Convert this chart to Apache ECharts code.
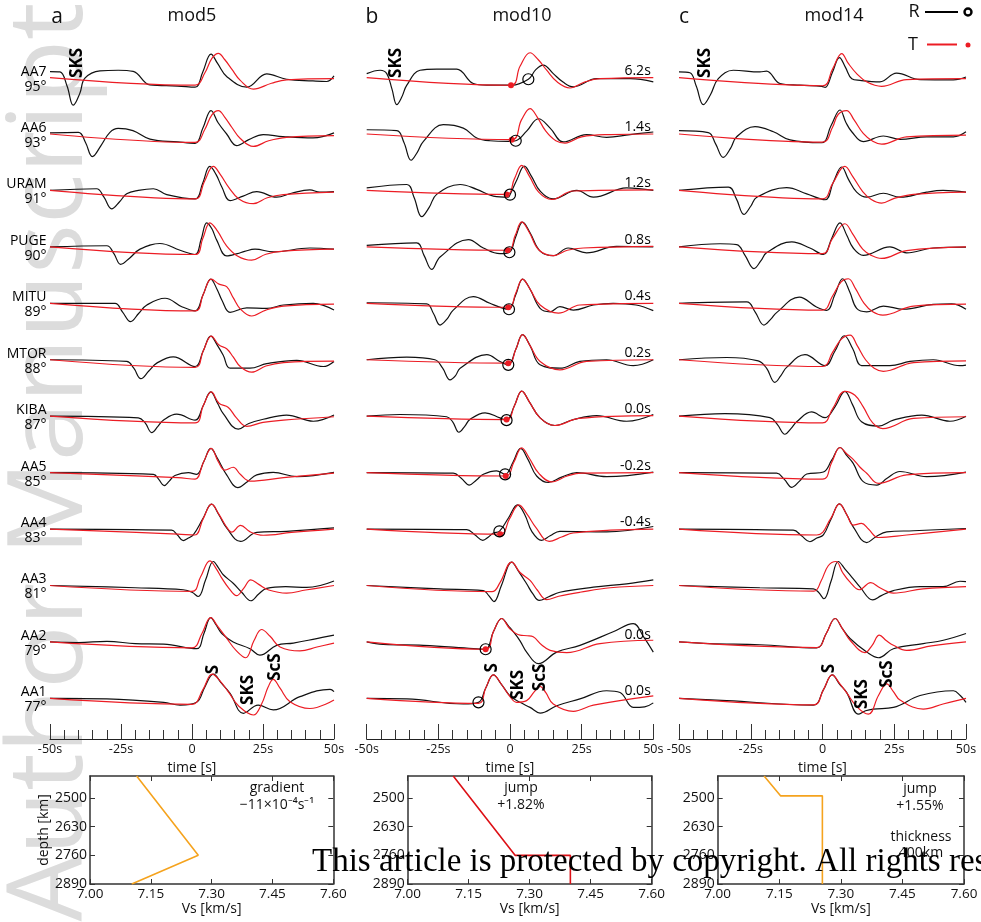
<!DOCTYPE html>
<html><head><meta charset="utf-8">
<script src="https://cdn.jsdelivr.net/npm/echarts@6/dist/echarts.min.js"></script>
<style>html,body{margin:0;padding:0;background:#fff}#c{width:981px;height:922px}</style>
</head><body><div id="c"></div>
<script>
// ---------------- data ----------------
const stations = ['AA7','AA6','URAM','PUGE','MITU','MTOR','KIBA','AA5','AA4','AA3','AA2','AA1'];
const distances = [95,93,91,90,89,88,87,85,83,81,79,77];
const timeTicks = [-50,-25,0,25,50];
const panelTitles = ['mod5','mod10','mod14'];
const panelLetters = ['a','b','c'];

// amplitudes: [time s, amplitude] (1 unit = 1/10 trace spacing)
const mod5_R = [
 [[-50,1.06],[-46.5,1.0],[-44,-1.5],[-41.8,-4.9],[-39.5,-2.8],[-37.7,-0.1],[-32.4,1.2],[-26,1.3],[-20.7,1.1],[-14.8,-1.3],[-5,-1.5],[1.1,-1.7],[3.8,1.0],[6.7,4.15],[9,2.5],[12.2,0.2],[19.3,-1.7],[26.3,0.65],[33.3,-0.3],[42.6,-0.6],[47.4,-0.7],[50,0.3]],
 [[-50,0.2],[-40,0.3],[-37.5,-1.5],[-35.1,-4.0],[-32,-2.0],[-28.9,0.3],[-26,1.0],[-20.8,0.6],[-14.8,-0.9],[-5,-1.4],[1.1,-1.65],[3.8,1.0],[6.7,4.15],[9.2,2.0],[12.2,0],[15.7,-2.05],[20,-1.0],[25.1,-0.1],[32,-0.45],[42.6,-0.7],[50,0.2]],
 [[-50,0],[-33.6,0.3],[-31,-1.2],[-28.3,-3.25],[-25.5,-2.0],[-23,-0.6],[-18.9,0],[-13.6,0.3],[-8.9,-0.75],[1.1,-1.5],[3.7,1.2],[6.3,4.25],[8.5,2.8],[10.5,0.6],[13.4,-1.8],[18,-1.0],[22.8,-0.2],[29.8,-1.2],[35,-0.5],[41.5,0.1],[45,-0.3],[50,-0.2]],
 [[-50,0],[-30,0.2],[-27.5,-1.2],[-25.1,-3.1],[-22,-2.0],[-18.3,-0.4],[-11.3,0.6],[-4.2,-0.6],[1.1,-1.35],[3.2,1.3],[5.2,4.25],[7,3.2],[8.7,1.2],[12.2,-1.6],[16,-1.2],[18.5,-0.8],[22.2,-0.4],[28.6,-0.9],[41.5,-0.2],[50,-0.4]],
 [[-50,0],[-27.1,0],[-24.5,-1.5],[-21.6,-3.25],[-18.8,-1.8],[-15.9,-0.3],[-9.5,0.9],[-3.6,-0.6],[1.1,-1.35],[3.9,1.5],[6.6,4.3],[8.8,2.5],[10.5,0.6],[13.4,-1.6],[19.3,-0.8],[26.3,-0.9],[32.2,-0.3],[42.7,0],[50,-1.2]],
 [[-50,0],[-23,-0.3],[-20.5,-1.5],[-18,-3.35],[-15.2,-2.0],[-12.4,-0.6],[-6.6,0.5],[1.1,-1.2],[3.9,1.5],[6.6,4.2],[9,2.5],[11,0.8],[13.4,-1.5],[20.4,-1.5],[26.3,-0.7],[36.9,-0.1],[46.2,-1.2],[50,-0.3]],
 [[-50,0],[-18.9,-0.3],[-16.5,-1.2],[-14.2,-2.9],[-12,-1.8],[-10.1,-0.7],[-5.4,0.35],[1.1,-0.7],[3.9,1.8],[6.6,4.3],[9,2.3],[11,0.45],[16.3,-2.3],[20,-1.3],[25.1,-0.55],[33.3,0.2],[42.7,-0.9],[50,0.2]],
 [[-50,0],[-13.6,-0.3],[-11.7,-1.2],[-9.8,-2.3],[-8,-1.5],[-6,-0.5],[-1.3,0],[1.6,-0.3],[4.2,2.0],[6.6,4.3],[9,2.5],[12.2,-0.4],[16.1,-2.65],[19.5,-1.6],[22.8,-0.4],[28.6,0.05],[36.9,-0.7],[50,0.05]],
 [[-50,0],[-7.2,-0.2],[-5.2,-1.0],[-3.1,-2.05],[-1.3,-1.6],[0.5,-1.0],[3.8,1.8],[6.9,4.4],[9.5,2.5],[12.2,0.2],[17.1,-2.2],[22.8,-0.6],[33.3,-0.4],[50,0.2]],
 [[-50,0],[-20,-0.4],[-3.1,-0.75],[0,-1.2],[2.2,-1.95],[4.8,1.0],[7.5,4.25],[9.5,3.0],[11,1.9],[14.5,0.4],[17.5,-1.2],[20.7,-2.7],[23.5,-1.5],[26.3,-0.5],[33,-0.2],[40.4,-0.35],[50,0.8]],
 [[-50,0],[-40,-0.1],[-30,0.1],[-20,-0.3],[-10,-0.4],[1.6,-1.2],[4.2,1.5],[6.6,4.3],[8.5,3.0],[10.5,1.5],[14.5,0],[20.4,-1.2],[23.9,-2.35],[29.8,-0.6],[35.7,-0.2],[43.9,0.6],[50,1.2]],
 [[-50,0],[-30,-0.1],[-10,-0.7],[-4.2,-1.2],[1.6,-0.7],[4.5,2.0],[7.5,4.3],[10.5,2.6],[13.4,0.9],[18.1,-2.65],[23.3,-1.2],[28.6,-2.05],[38,0.3],[48.6,1.6],[50,1.2]]
];
const mod5_T = [
 [[-50,0],[1.1,-1.35],[4.5,0.8],[7,3.4],[9.3,4.3],[11.5,3.2],[14,1.5],[17,-0.5],[21.6,-2.05],[28,-1.0],[33.3,-0.4],[50,-0.2]],
 [[-50,0],[1.1,-1.5],[4.5,0.8],[7,3.4],[9.3,4.15],[11.5,3.0],[14,1.2],[17,-0.8],[21.6,-2.2],[27,-1.2],[33.3,-0.6],[50,-0.3]],
 [[-50,0],[1.1,-1.5],[4.3,1.5],[7.5,4.25],[10,2.8],[13,0.5],[16.5,-1.5],[21.6,-2.35],[26.5,-1.3],[32.2,-0.75],[50,-0.3]],
 [[-50,0],[1.1,-1.35],[3.8,1.5],[6.3,4.25],[9,2.8],[12,0.3],[16,-1.6],[21,-2.35],[26,-1.3],[32.2,-0.75],[50,-0.4]],
 [[-50,0],[1.1,-1.35],[3.9,1.5],[6.8,4.3],[9.5,3.4],[12.2,2.95],[14.5,1.0],[17,-1.0],[21,-2.25],[26,-1.2],[32.2,-0.5],[50,-0.15]],
 [[-50,0],[1.1,-1.35],[3.9,1.5],[6.8,4.2],[9.5,2.6],[12.2,1.95],[14.5,0.5],[17,-1.2],[21,-2.2],[26,-1.1],[32.2,-0.5],[50,-0.25]],
 [[-50,0],[1.1,-1.2],[3.9,1.8],[6.8,4.3],[9.5,2.3],[12.8,1.55],[15.5,-0.2],[19.3,-1.8],[25,-1.1],[32.2,-0.7],[50,-0.1]],
 [[-50,0],[-5,-0.9],[1.1,-1.15],[4,1.8],[6.8,4.3],[9.2,2.0],[11.6,0.45],[14.5,0.95],[17,-0.3],[20.4,-1.5],[32.2,-0.9],[50,-0.1]],
 [[-50,0],[-5,-0.9],[1,-1.05],[3.9,1.8],[6.9,4.4],[9.5,2.6],[12,0.5],[14,-0.55],[17.1,0.65],[20.5,-0.5],[25.1,-1.1],[35,-0.6],[50,0]],
 [[-50,0],[0,-1.05],[3,1.5],[6.3,4.35],[8.5,3.0],[10.5,1.3],[13,-0.5],[15.7,-1.8],[18.2,-0.5],[20.7,1.0],[23.5,0.2],[27,-0.8],[33.3,-1.35],[40,-0.8],[50,0]],
 [[-50,0],[0,-1.05],[3.5,1.5],[6.6,4.3],[9,2.8],[12,0.8],[15.5,-1.5],[18.9,-2.8],[21.8,0.2],[24.5,2.2],[27.5,1.0],[31,-0.9],[38,-1.6],[44,-0.9],[50,-0.2]],
 [[-50,0],[0,-1.05],[3.8,1.5],[7.1,4.3],[10,3.0],[13,1.0],[16.5,-1.4],[21.6,-2.95],[24.5,-1.0],[26.8,2.0],[28.6,3.35],[31,1.8],[34.5,-0.6],[41.5,-1.8],[50,-0.3]]
];
const mod10_R = [
 [[-50,0.7],[-45.3,1.3],[-43,0.7],[-41.2,-2.0],[-39.5,-4.8],[-37.8,-3.5],[-36,-1.35],[-31.4,1.3],[-25.6,1.5],[-18.6,1.5],[-12.8,-1.05],[-8.1,-1.35],[0.6,-1.35],[6.4,-0.3],[9,1.4],[11.6,2.2],[15.1,0.7],[18.5,-0.8],[22.1,-1.65],[30.2,-0.2],[36,-0.2],[42,-0.2],[50,-0.75]],
 [[-50,0.75],[-39.5,0.6],[-37,-1.5],[-34.5,-4.65],[-32.3,-3.2],[-30.2,-1.3],[-23.3,1.65],[-16.3,1.05],[-11.6,-0.7],[-7,-1.2],[-0.6,-1.3],[2,-1.2],[5.8,0.5],[9.9,2.7],[14,1.05],[18.6,-1.4],[26.7,-0.1],[33.7,-0.6],[41.9,-0.1],[50,0.35]],
 [[-50,0.45],[-36,1.05],[-33.5,-1.2],[-30.8,-4.65],[-28.2,-3.0],[-25.6,-0.7],[-17.4,1.05],[-11.6,0.2],[-5.8,-1.0],[-0.6,-1.2],[0,-0.75],[2.5,2.0],[5,4.3],[7.5,2.5],[10.5,-0.1],[15.1,-1.5],[23.3,0],[29.1,-1.2],[40.7,0.45],[50,0]],
 [[-50,0.25],[-32.6,0.7],[-30,-1.5],[-27.3,-4.0],[-24.4,-1.8],[-14.5,1.3],[-9.3,-0.2],[-3.5,-1.2],[-0.2,-0.95],[2,1.8],[4.4,4.4],[7,2.5],[10.5,-0.75],[15.1,-1.55],[20.3,-0.2],[26.7,-1.05],[37.2,0.1],[50,0]],
 [[-50,0.1],[-29.1,-0.1],[-26.7,-1.8],[-24.4,-3.85],[-22,-2.8],[-19.8,-1.2],[-12.8,1.2],[-7,0],[-2.3,-0.9],[-0.35,-1.05],[2,1.5],[4.4,4.3],[7,2.5],[10.5,-0.9],[14,-1.5],[17.4,-0.6],[22.1,-1.2],[29.1,-0.3],[36,0],[44,-0.3],[50,-1.3]],
 [[-50,0],[-36,0.45],[-26.2,0],[-23.5,-1.5],[-20.9,-3.55],[-19,-2.8],[-17.4,-1.5],[-8.1,0.9],[-3.5,-0.3],[-0.6,-0.9],[2,1.8],[4.4,4.45],[7,2.5],[10.5,-0.9],[17.4,-1.5],[24.4,-0.3],[33.7,0],[43,-1.05],[50,0]],
 [[-50,0],[-38.4,0.3],[-22.1,-0.1],[-20,-1.0],[-17.8,-2.85],[-15.8,-1.8],[-14,-0.6],[-8.7,0.6],[-3.5,-0.3],[-1.2,-0.7],[1.5,1.8],[4.1,4.45],[6.8,2.5],[10.5,-0.3],[15.7,-1.65],[22.1,-0.6],[30.2,0.1],[40.7,-0.9],[50,0.3]],
 [[-50,0],[-19.8,-0.1],[-17,-1.0],[-14.2,-2.2],[-11.7,-1.3],[-9.3,-0.3],[-4.7,0.3],[-1.7,-0.3],[1,1.8],[3.7,4.3],[6.3,2.3],[9.3,-0.6],[13.4,-1.75],[18,-0.8],[23.3,0],[33.7,-0.7],[50,0.1]],
 [[-50,0],[-15.1,-0.1],[-12.3,-1.0],[-9.5,-2.0],[-7.5,-1.4],[-5.8,-0.7],[-3.7,-0.4],[-0.5,2.0],[2.6,4.3],[5.2,2.5],[7.6,-0.4],[11,-2.0],[14,-1.2],[17.4,-0.4],[33.7,-0.5],[50,0.45]],
 [[-50,0],[-24.4,-0.6],[-9.3,-0.9],[-7.4,-1.8],[-5.6,-2.85],[-3,0.0],[0.6,4.15],[3,2.5],[5.8,0.3],[8,-1.5],[10.2,-2.65],[13.5,-2.0],[17.4,-1.2],[29.1,-0.3],[40.7,0.3],[50,1.0]],
 [[-50,0],[-44.2,-0.45],[-30.2,-0.6],[-12.8,-1.2],[-8.5,-1.3],[-5.8,1.8],[-2.9,4.15],[-0.5,2.8],[1.2,1.8],[3.5,0.2],[5.8,-1.8],[9.9,-3.85],[16.3,-1.8],[24.4,-0.6],[36,1.8],[43,3.25],[46.5,1.0],[50,-1.8]],
 [[-50,0],[-36,-0.1],[-16.3,-1.0],[-11,-0.7],[-8.5,1.8],[-5.8,4.15],[-3,2.5],[0,0.45],[3.5,-0.7],[7,-1.6],[10.5,-2.6],[16.3,-1.3],[24.4,-0.1],[33.7,1.35],[38.4,1.05],[43,-1.6],[47,-1.5],[50,-0.8]]
];
const mod10_T = [
 [[-50,0],[0.35,-1.36],[3.5,2.0],[7,4.4],[9.8,3.2],[12.8,1.3],[16.5,-0.8],[20.9,-1.85],[26,-0.8],[31.4,-0.2],[50,0]],
 [[-50,0],[0.6,-1.0],[4,2.5],[7,4.5],[9.5,3.0],[12.5,0.5],[16,-1.2],[19.2,-1.6],[25,-0.5],[35,-0.1],[50,0]],
 [[-50,0],[-1.2,-0.7],[1.5,2.0],[4.1,4.45],[6.8,2.5],[10,-0.3],[14.5,-1.6],[22,-0.1],[50,0.1]],
 [[-50,0],[-0.8,-0.6],[1.8,2.0],[4.1,4.43],[6.8,2.5],[10,-0.5],[15.1,-1.55],[20,-0.6],[25.6,-0.2],[50,0.1]],
 [[-50,0],[-0.6,-0.7],[2,1.8],[4.4,4.3],[7,2.5],[10.5,-0.3],[16.9,-1.75],[24.4,-0.3],[50,0]],
 [[-50,0],[-0.6,-0.6],[2,1.8],[4.4,4.45],[7,2.5],[10.5,-0.3],[17.4,-1.8],[26.7,-0.3],[50,0]],
 [[-50,0],[-1.2,-0.6],[1.5,1.8],[4.1,4.45],[6.8,2.5],[10.5,-0.3],[15.7,-1.65],[24,-0.4],[50,0.1]],
 [[-50,0],[-1.5,-0.6],[1.3,1.8],[4.1,4.4],[6.8,2.5],[10,-0.1],[14.5,-1.65],[20,-0.6],[25,-0.1],[50,0]],
 [[-50,0],[-3.4,-0.9],[-0.2,1.8],[3.1,4.3],[6,2.6],[9,0.3],[13.7,-2.2],[18,-1.4],[22,-0.7],[35,-0.2],[50,0]],
 [[-50,0],[-6.3,-1.1],[-3.5,0.5],[0.6,4.15],[3.5,2.3],[7,0.9],[9.5,-0.8],[12.8,-2.5],[17,-1.9],[24.4,-1.2],[35,-0.4],[50,0]],
 [[-50,0],[-8.5,-1.3],[-5.8,1.8],[-2.9,4.15],[0,2.3],[3.5,1.2],[6,1.1],[8.1,0.9],[11,-0.5],[14,-1.5],[19.8,-1.9],[31.4,-0.3],[50,0.3]],
 [[-50,0],[-11,-0.9],[-8.5,1.8],[-5.8,4.15],[-3,2.5],[0,0.3],[2.3,-0.7],[5.8,-0.4],[8.5,1.2],[10.5,2.1],[12.5,1.0],[15.1,-1.0],[22.1,-2.3],[29.1,-1.2],[50,0.45]]
];
const mod14_R = [
 [[-50,1.0],[-46.2,0.85],[-44,-1.5],[-41.5,-4.8],[-39,-3.0],[-36.3,-0.2],[-31.1,1.3],[-21.8,1.0],[-19.5,1.15],[-14.8,-1.05],[-7.8,-1.35],[-0.3,-1.55],[0.9,-1.75],[3.5,1.0],[5.9,3.55],[8,1.8],[10.2,-0.2],[13.1,-0.5],[20,-0.75],[25.8,0.8],[34,-0.35],[45.6,-0.4],[50,0.1]],
 [[-50,0.6],[-39.8,0.25],[-37.2,-1.8],[-34.6,-4.15],[-32,-2.5],[-29.9,-0.5],[-23.5,1.3],[-17.1,0.4],[-11.3,-1.05],[-0.3,-1.55],[3,1.5],[6.1,4.25],[8.2,2.0],[10.2,0.4],[14.2,-1.35],[21.2,-0.35],[27,-0.95],[36.3,-0.5],[45.6,-0.5],[50,0.4]],
 [[-50,0],[-32.8,0.6],[-30,-1.5],[-27.4,-4.25],[-25,-2.8],[-22.9,-1.2],[-12.5,0.5],[-5.5,-0.6],[0.9,-1.65],[3.8,1.5],[6.7,4.15],[9,2.0],[11.9,-0.3],[15.4,-1.2],[21.2,-0.5],[27,-1.2],[36.3,-0.3],[42,0],[50,-0.3]],
 [[-50,0],[-35.7,0.55],[-29.9,0.4],[-27,-1.5],[-23.9,-3.85],[-21.5,-2.5],[-19.5,-1.05],[-10.7,0.9],[-4.4,-0.2],[0.3,-1.35],[3.2,1.5],[6.1,4.25],[8.5,2.0],[10.7,-0.2],[14.2,-1.5],[23.5,0],[29.3,-1.05],[38.6,-0.2],[50,-0.05]],
 [[-50,0],[-26.4,0.25],[-23.5,-1.5],[-20.4,-3.85],[-18,-2.8],[-16,-1.65],[-8.1,1.1],[-2.1,-0.65],[1.5,-1.25],[4.3,1.5],[7,4.35],[9.5,2.0],[11.9,-0.9],[15.4,-1.5],[21.2,-0.5],[28.2,-1.05],[38.6,-0.2],[45,-0.1],[50,-1.05]],
 [[-50,0],[-33.4,0.4],[-22.4,-0.2],[-19.5,-1.5],[-16.6,-4.0],[-14.5,-2.8],[-12.5,-1.35],[-6.1,0.9],[0.9,-1.05],[4.3,1.5],[7.6,4.25],[10.5,2.0],[13.6,-1.05],[17.7,-1.05],[23.5,-1.05],[30.5,-0.3],[38.6,0],[47.9,-1.05],[50,-0.95]],
 [[-50,0],[-34,0.45],[-18.3,-0.25],[-15.7,-1.5],[-13.1,-3.2],[-11,-2.2],[-9,-1.0],[-3.8,0.75],[0.9,-0.25],[4.5,1.8],[7.8,4.4],[10.5,2.0],[13.6,-1.0],[19.5,-1.75],[24.7,-0.7],[34.6,0.2],[44.4,-0.9],[50,0]],
 [[-50,0],[-16,-0.1],[-13.3,-1.2],[-10.7,-2.6],[-8,-1.5],[-5.5,-0.25],[0.3,0.1],[3.2,2.2],[6.1,4.45],[8.5,3.0],[10.7,1.65],[14.2,-1.6],[18.9,-2.2],[22.5,-1.0],[27,0.2],[36.3,-0.7],[50,0.1]],
 [[-50,0],[-10.2,-0.2],[-7.3,-1.2],[-4.4,-2.25],[-2,-1.6],[0.3,-1.05],[3,1.8],[5.9,4.45],[8.5,2.5],[10.7,0.4],[15.4,-2.4],[18.5,-1.4],[22.4,-0.5],[31.7,-0.3],[50,0.1]],
 [[-50,0],[-21.8,-0.4],[-3.2,-0.6],[-1.4,-1.2],[0.5,-2.35],[3,0.8],[5.5,4.25],[8,2.8],[10.2,1.5],[13.1,-0.3],[17.5,-2.55],[20.5,-1.8],[24.7,-0.9],[34,-0.2],[42,-0.2],[47.9,0.75],[50,0.7]],
 [[-50,0],[-39.2,-0.3],[-21.8,-0.5],[-2.1,-1.05],[1.3,1.5],[4.4,4.15],[7,2.3],[9.6,0.6],[15.4,-1.8],[19.5,-2.8],[24.7,-1.2],[35.1,-0.3],[42.1,0.3],[50,1.5]],
 [[-50,0],[-33.4,-0.4],[-3.2,-1.2],[0.3,1.5],[3.4,4.15],[6,2.5],[8.4,1.05],[12.5,-2.8],[15,-2.2],[17.7,-1.9],[24.7,-1.6],[34,0.5],[45.6,1.35],[48,0.5],[50,-0.7]]
];
const mod14_T = [
 [[-50,0],[0,-1.45],[3.5,1.5],[6.7,4.25],[9,2.5],[11.9,0.7],[15.5,-0.8],[20.6,-1.55],[29.3,-0.35],[50,-0.2]],
 [[-50,0],[0,-1.45],[3.5,1.2],[5.5,3.5],[8.4,4.15],[11,2.5],[14.2,0.1],[17.5,-1.3],[20.6,-1.8],[29.3,-0.5],[50,-0.2]],
 [[-50,0],[0,-1.5],[3.5,1.2],[7.8,4.25],[10.5,2.5],[14,-0.2],[17,-1.6],[20.6,-2.25],[25,-1.4],[31.7,-0.7],[50,-0.3]],
 [[-50,0],[0,-1.2],[3.5,1.5],[7.8,4.1],[10.5,2.3],[14,-0.4],[17,-1.5],[20.6,-2.05],[29.3,-0.65],[50,0]],
 [[-50,0],[0,-1.2],[3.5,1.3],[6.5,3.8],[9,4.35],[11.5,2.6],[14.5,0],[17.5,-1.5],[21,-2.1],[31.7,-0.5],[50,-0.15]],
 [[-50,0],[0,-1.2],[3.5,1.3],[6.5,3.6],[9.6,4.35],[12,2.6],[15,0],[18,-1.5],[21.2,-2.05],[31.7,-0.5],[50,-0.2]],
 [[-50,0],[0,-1.2],[3.5,1.3],[7.8,4.4],[11.3,3.7],[14.2,1.65],[17.5,-1.2],[21,-2.2],[31.7,-0.4],[50,-0.1]],
 [[-50,0],[0,-1.15],[3.2,1.8],[6.1,4.45],[8.5,3.3],[10.7,2.35],[13,1.0],[15.4,-0.1],[19.5,-1.9],[29.3,-0.4],[50,0]],
 [[-50,0],[-2,-1.05],[2.8,1.8],[5.9,4.45],[8.5,2.5],[10.7,0.7],[13.6,1.0],[16,0],[19.5,-1.5],[29.3,-1.05],[50,0]],
 [[-50,0],[-3,-1.0],[-0.5,0.8],[2,3.5],[4.7,4.25],[7,2.3],[9.6,0.6],[12.8,-0.75],[16.8,0.5],[20,-0.4],[24.7,-1.35],[35,-0.6],[50,-0.2]],
 [[-50,0],[-2,-1.0],[1.3,1.5],[4.4,4.15],[7,2.3],[9.6,0.3],[14.8,-1.9],[17.3,-0.6],[19.8,1.2],[22.3,0.2],[24.7,-0.6],[29.3,-1.5],[38,-0.7],[50,0]],
 [[-50,0],[-3,-1.15],[0.3,1.5],[3.4,4.15],[6,2.6],[8.4,1.0],[12,-1.5],[16,-2.8],[19.5,0.5],[22.4,2.55],[24.7,1.2],[27,-0.3],[35.1,-1.9],[42,-1.0],[50,0]]
];
// mod10 picks (R open circle, T red dot) and time shifts
const mod10_pickR = [[6.4,-0.3],[2.0,-1.2],[0,-0.75],[-0.2,-0.95],[-0.35,-1.05],[-0.6,-0.9],[-1.2,-0.7],[-1.7,-0.3],[-3.7,-0.4],null,[-8.5,-1.3],[-11,-0.7]];
const mod10_pickT = [[0.35,-1.36],[0.6,-1.0],[-1.2,-0.7],[-0.8,-0.6],[-0.6,-0.7],[-0.6,-0.6],[-1.2,-0.6],[-1.5,-0.6],[-3.4,-0.9],null,[-8.5,-1.3],null];
const mod10_shift = ['6.2s','1.4s','1.2s','0.8s','0.4s','0.2s','0.0s','-0.2s','-0.4s','','0.0s','0.0s'];
// phase annotations: [text, station index, time, amplitude]
const mod5_phases = [['SKS',0,-40.3,2.6],['S',11,7.6,5.1],['SKS',11,19.9,1.5],['ScS',11,29.2,5.55]];
const mod10_phases = [['SKS',0,-39.6,2.6],['S',11,-6.2,5.4],['SKS',11,2.9,2.4],['ScS',11,10.6,3.7]];
const mod14_phases = [['SKS',0,-40.9,2.6],['S',11,2.4,5.3],['SKS',11,13.8,0.76],['ScS',11,22.6,4.3]];

// velocity profiles
const vsTicks = [7.00,7.15,7.30,7.45,7.60];
const depthTicks = [2500,2630,2760,2890];
const profA_vs = [7.115,7.267,7.103], profA_depth = [2400,2760,2890];
const profB_vs = [7.112,7.264,7.40,7.40], profB_depth = [2400,2760,2760,2890];
const profC_vs = [7.113,7.153,7.255,7.255], profC_depth = [2400,2490,2490,2890];

// ---------------- chart ----------------
const FONT = 'Open Sans';
const BLACK = '#111', RED = '#ec1c24', ORANGE = '#f5a31e', PRED = '#dd1016';
const SP = 10;
const off = i => (stations.length - 1 - i) * SP;
const chart = echarts.init(document.getElementById('c'), null, {renderer:'canvas'});

const wavePanels = [
  {left:50, right:647, R:mod5_R, T:mod5_T, ph:mod5_phases},
  {left:366.7, right:327.7, R:mod10_R, T:mod10_T, ph:mod10_phases},
  {left:679, right:15, R:mod14_R, T:mod14_T, ph:mod14_phases}
];
const profPanels = [
  {left:90, right:647.7, vs:profA_vs, d:profA_depth, color:ORANGE, name:'depth [km]'},
  {left:407.7, right:329.3, vs:profB_vs, d:profB_depth, color:PRED, name:''},
  {left:717.7, right:17, vs:profC_vs, d:profC_depth, color:ORANGE, name:''}
];

const hidden = {color:'rgba(0,0,0,0)', opacity:1};
const grid = [], xAxis = [], yAxis = [], series = [];
wavePanels.forEach((p, pi) => {
  grid.push({left:p.left, right:p.right, top:20, bottom:183});
  xAxis.push({gridIndex:pi, type:'value', min:timeTicks[0], max:timeTicks[timeTicks.length-1], interval:25,
    axisLine:{show:true, onZero:false, lineStyle:{color:'#222', width:1}},
    axisTick:{show:true, inside:true, length:15, lineStyle:{color:'#333', width:1}},
    minorTick:{show:true, splitNumber:5, length:9, lineStyle:{color:'#333', width:1}},
    splitLine:{show:false}, minorSplitLine:{show:false},
    axisLabel:{fontFamily:FONT, fontSize:12.5, color:'#111', margin:4, formatter:v => v===0 ? '0' : v+'s'},
    name:'time [s]', nameLocation:'middle', nameGap:15, nameTextStyle:{fontFamily:FONT, fontSize:14, color:'#111'}});
  yAxis.push({gridIndex:pi, type:'value', min:-7.2, max:120.2, show:false});
  stations.forEach((s, i) => {
    series.push({type:'line', xAxisIndex:pi, yAxisIndex:pi, silent:true, showSymbol:false, smooth:0.4,
      data:p.R[i].map(([t,a]) => [t, a + off(i)]), lineStyle:{color:BLACK, width:1.2}, z:2});
  });
  stations.forEach((s, i) => {
    series.push({type:'line', xAxisIndex:pi, yAxisIndex:pi, silent:true, showSymbol:false, smooth:0.4,
      data:p.T[i].map(([t,a]) => [t, a + off(i)]), lineStyle:{color:RED, width:1.2}, z:3});
  });
  series.push({type:'scatter', xAxisIndex:pi, yAxisIndex:pi, silent:true, symbolSize:1, clip:false,
    itemStyle:hidden, z:6,
    data:p.ph.map(([txt, st, t, a]) => ({value:[t, off(st) + a], name:txt})),
    label:{show:true, position:'inside', rotate:90, formatter:q => q.data.name, opacity:1,
      fontFamily:FONT, fontWeight:'bold', fontSize:17, color:'#000'}});
});
// station labels
series.push({type:'scatter', xAxisIndex:0, yAxisIndex:0, silent:true, symbolSize:1, clip:false, z:6,
  itemStyle:hidden,
  data:stations.map((s, i) => ({value:[-50, off(i)], name:s, dist:distances[i]})),
  label:{show:true, position:'left', distance:3, offset:[0,1.5], align:'right', lineHeight:15, opacity:1,
    formatter:q => q.data.name + '\n' + q.data.dist + '°', fontFamily:FONT, fontSize:14, color:'#000'}});
// mod10 shifts
series.push({type:'scatter', xAxisIndex:1, yAxisIndex:1, silent:true, symbolSize:1, clip:false, z:6,
  itemStyle:hidden,
  data:mod10_shift.map((s, i) => ({value:[50, off(i)], name:s})).filter(d => d.name),
  label:{show:true, position:'left', distance:2, offset:[0,-7], formatter:q => q.data.name, opacity:1,
    fontFamily:FONT, fontSize:14, color:'#000'}});
// mod10 picks
series.push({type:'scatter', xAxisIndex:1, yAxisIndex:1, silent:true, symbol:'circle', symbolSize:6, z:7,
  itemStyle:{color:RED, opacity:1},
  data:mod10_pickT.map((p, i) => p ? [p[0], p[1] + off(i)] : null).filter(Boolean)});
series.push({type:'scatter', xAxisIndex:1, yAxisIndex:1, silent:true, symbol:'circle', symbolSize:11, z:8,
  itemStyle:{color:'rgba(0,0,0,0)', borderColor:'#000', borderWidth:1.2, opacity:1},
  data:mod10_pickR.map((p, i) => p ? [p[0], p[1] + off(i)] : null).filter(Boolean)});

// profile panels
const frame = {show:true, onZero:false, lineStyle:{color:'#333', width:1.5}};
profPanels.forEach((p, k) => {
  const gi = 3 + k;
  grid.push({left:p.left, right:p.right, top:776, bottom:38});
  xAxis.push({gridIndex:gi, type:'value', min:7.0, max:7.6, position:'bottom', axisLine:frame,
    axisTick:{show:true, inside:true, length:5, customValues:vsTicks, lineStyle:{color:'#333'}},
    axisLabel:{fontFamily:FONT, fontSize:13.5, color:'#111', margin:3, customValues:vsTicks, formatter:v => v.toFixed(2)},
    splitLine:{show:false}, name:'Vs [km/s]', nameLocation:'middle', nameGap:18,
    nameTextStyle:{fontFamily:FONT, fontSize:14, color:'#111'}});
  yAxis.push({gridIndex:gi, type:'value', min:2400, max:2890, inverse:true, position:'left', axisLine:frame,
    axisTick:{show:true, inside:true, length:5, customValues:depthTicks, lineStyle:{color:'#333'}},
    axisLabel:{fontFamily:FONT, fontSize:14, color:'#111', margin:3, customValues:depthTicks, formatter:v => String(v)},
    splitLine:{show:false}, name:p.name, nameLocation:'middle', nameGap:33,
    nameTextStyle:{fontFamily:FONT, fontSize:14, color:'#111'}});
});
profPanels.forEach((p, k) => {
  const gi = 3 + k;
  xAxis.push({gridIndex:gi, type:'value', min:7.0, max:7.6, position:'top', axisLine:frame,
    axisTick:{show:true, inside:true, length:5, customValues:vsTicks, lineStyle:{color:'#333'}},
    axisLabel:{show:false}, splitLine:{show:false}});
  yAxis.push({gridIndex:gi, type:'value', min:2400, max:2890, inverse:true, position:'right', axisLine:frame,
    axisTick:{show:true, inside:true, length:5, customValues:depthTicks, lineStyle:{color:'#333'}},
    axisLabel:{show:false}, splitLine:{show:false}});
  series.push({type:'line', xAxisIndex:3 + k, yAxisIndex:3 + k, silent:true, showSymbol:false,
    data:p.vs.map((v, j) => [v, p.d[j]]), lineStyle:{color:p.color, width:1.6}, z:3});
});

const T = (x, y, text, size) => ({type:'text', x, y, z:50,
  style:{text, fontFamily:FONT, fontSize:size, fill:'#111', textAlign:'center', textVerticalAlign:'middle'}});
const graphic = [
  {type:'text', x:52, y:462, rotation:Math.PI/2, z:0,
    style:{text:'Author Manuscript', fontFamily:FONT, fontSize:105, fill:'#dcdcdc', textAlign:'center', textVerticalAlign:'middle'}},
  T(57, 17, panelLetters[0], 21), T(192, 16, panelTitles[0], 18),
  T(372, 17, panelLetters[1], 21), T(522, 16, panelTitles[1], 18),
  T(684, 17, panelLetters[2], 21), T(834, 16, panelTitles[2], 18),
  T(914, 12, 'R', 18), T(913, 45, 'T', 18),
  {type:'line', z:50, shape:{x1:925, y1:12, x2:958, y2:12}, style:{stroke:'#000', lineWidth:2}},
  {type:'circle', z:50, shape:{cx:968, cy:12, r:3.5}, style:{fill:'none', stroke:'#000', lineWidth:2.4}},
  {type:'line', z:50, shape:{x1:927, y1:44.5, x2:957, y2:44.5}, style:{stroke:RED, lineWidth:2}},
  {type:'circle', z:50, shape:{cx:968, cy:45, r:2.5}, style:{fill:RED}},
  T(277, 788, 'gradient', 14), T(277, 805, '−11×10⁻⁴s⁻¹', 14),
  T(521, 788, 'jump', 14), T(521, 805, '+1.82%', 14),
  T(920, 789, 'jump', 14), T(920, 806, '+1.55%', 14),
  T(921, 837, 'thickness', 14), T(921, 853, '400km', 14),
  {type:'text', x:312, y:879, z:100,
    style:{text:'This article is protected by copyright. All rights reserved.', fontFamily:'Liberation Serif', fontSize:33, fill:'#000', textAlign:'left', textVerticalAlign:'bottom'}}
];

chart.setOption({animation:false, backgroundColor:'#fff', grid, xAxis, yAxis, series, graphic});
</script></body></html>
